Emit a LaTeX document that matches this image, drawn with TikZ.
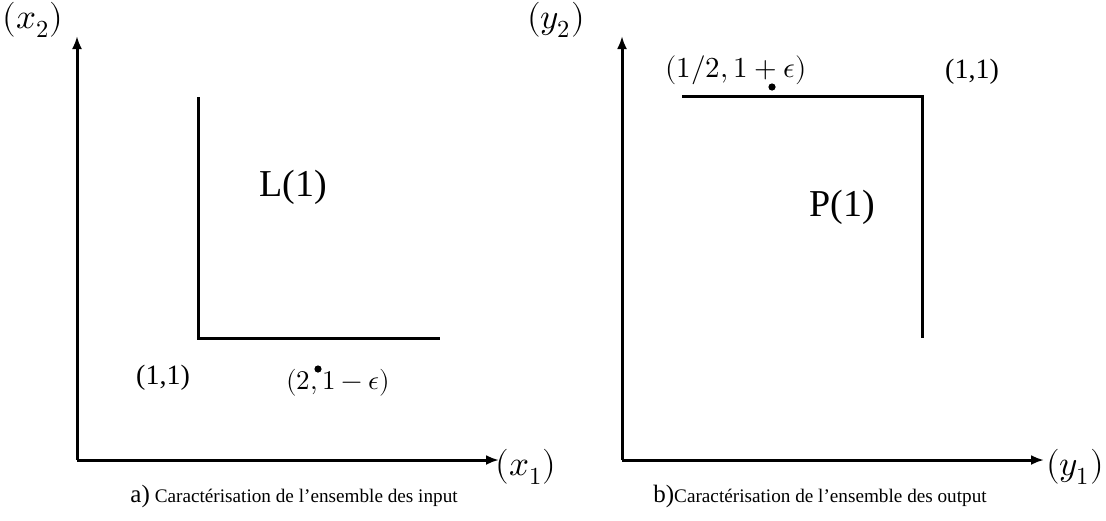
\documentclass[tikz,border=0pt]{standalone}
\usepackage{fontspec}
\setmainfont{Liberation Serif}
\usepackage{unicode-math}
\setmathfont{Latin Modern Math}
\usetikzlibrary{arrows.meta}
\begin{document}
\begin{tikzpicture}[x=0.5pt,y=-0.5pt,
  axis/.style={line width=1.5pt,-{Latex[length=6.5pt,width=5pt]}},
  curve/.style={line width=1.5pt},
  lbl/.style={inner sep=0pt,font=\fontsize{17.5}{20}\selectfont},
  big/.style={inner sep=0pt,font=\fontsize{19}{22}\selectfont},
  small/.style={inner sep=0pt,font=\fontsize{14}{16}\selectfont},
  captxt/.style={inner sep=0pt,anchor=base west}]
\useasboundingbox (0,0) rectangle (1106,520);
% left panel
\coordinate (O1) at (77,460);
\coordinate (X1) at (499,460);
\coordinate (Y1) at (77,36);
\draw[axis] (O1) -- (X1);
\draw[axis] (O1) -- (Y1);
\node[lbl] (x2) at (33,20) {$(x_2)$};
\node[lbl] (x1) at (526,467) {$(x_1)$};
\coordinate (La) at (198,97);
\coordinate (Lb) at (198,338);
\coordinate (Lc) at (440,338);
\draw[curve] (La) -- (Lb) -- (Lc);
\node[big] (L1) at (293,187) {L(1)};
\node[small] (p11a) at (163,378) {(1,1)};
\fill (318,369) circle (1.8pt);
\node[inner sep=0pt,font=\fontsize{13.5}{16}\selectfont] (p21) at (338,383) {$(2,1-\epsilon)$};
\node[captxt] (capa) at (130,502) {{\fontsize{12.5}{14}\selectfont a)} {\fontsize{9.6}{12}\selectfont Caractérisation de l’ensemble des input}};
% right panel
\coordinate (O2) at (622,460);
\coordinate (X2) at (1044,460);
\coordinate (Y2) at (622,36);
\draw[axis] (O2) -- (X2);
\draw[axis] (O2) -- (Y2);
\node[lbl] (y2) at (556,20) {$(y_2)$};
\node[lbl] (y1) at (1075,467) {$(y_1)$};
\coordinate (Pa) at (682,96);
\coordinate (Pb) at (922,96);
\coordinate (Pc) at (922,338);
\draw[curve] (Pa) -- (Pb) -- (Pc);
\node[big] (P1) at (842,207) {P(1)};
\node[small] (p11b) at (972,72) {(1,1)};
\fill (772,87) circle (1.8pt);
\node[inner sep=0pt,font=\fontsize{14.5}{16}\selectfont] (phalf) at (736,70) {$(1/2,1+\epsilon)$};
\node[captxt] (capb) at (653,502) {{\fontsize{12.5}{14}\selectfont b)}{\fontsize{9.6}{12}\selectfont Caractérisation de l’ensemble des output}};
\end{tikzpicture}
\end{document}
